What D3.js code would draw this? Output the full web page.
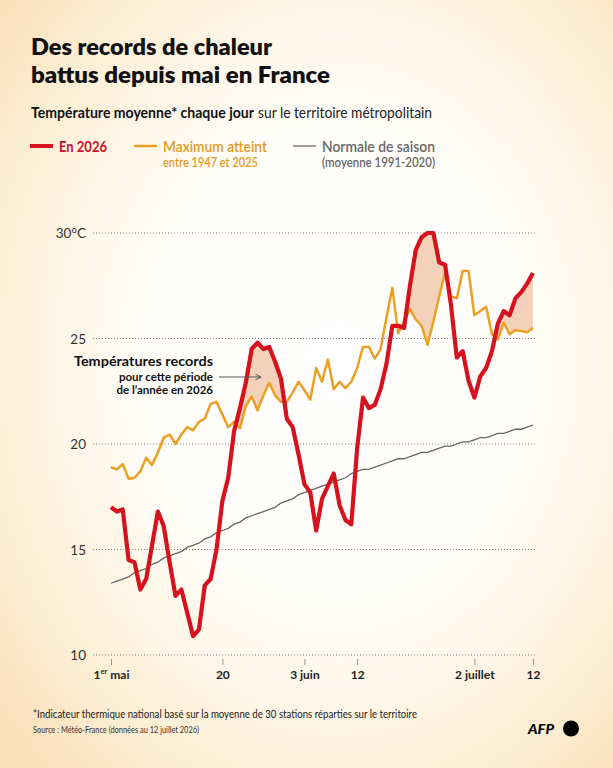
<!DOCTYPE html>
<html>
<head>
<meta charset="utf-8">
<script src="https://cdn.jsdelivr.net/npm/d3@7"></script>
<style>
  body { margin: 0; }
  svg { display: block; font-family: Lato, "Noto Sans", sans-serif; }
</style>
</head>
<body>
<svg width="613" height="768"></svg>
<script>
// daily values, 1 May -> 12 July 2026 (73 days)
var startDate = new Date(2026, 4, 1);

var en2026 = [17.0, 16.8, 16.9, 14.5, 14.4, 13.1, 13.6, 15.2, 16.8, 16.1,
    14.4, 12.8, 13.1, 12.0, 10.9, 11.2, 13.3, 13.6, 15.0, 17.3,
    18.4, 20.6, 21.7, 22.9, 24.5, 24.8, 24.5, 24.6, 23.9, 23.1,
    21.2, 20.8, 19.5, 18.1, 17.7, 15.9, 17.4, 18.0, 18.6, 17.1,
    16.4, 16.2, 19.8, 22.2, 21.7, 21.85, 22.6, 23.8, 25.6, 25.6,
    25.5, 27.5, 29.2, 29.8, 30.0, 30.0, 28.6, 28.5, 26.6, 24.1,
    24.4, 23.0, 22.2, 23.2, 23.6, 24.4, 25.7, 26.3, 26.1, 26.9,
    27.2, 27.6, 28.1];

var maxAtteint = [18.9, 18.8, 19.05, 18.35, 18.4, 18.7, 19.35, 19.0, 19.6, 20.3,
    20.45, 20.0, 20.45, 20.8, 20.65, 21.05, 21.2, 21.9, 22.0, 21.4,
    20.8, 21.05, 20.75, 21.8, 22.25, 21.6, 22.3, 22.9, 22.3, 22.0,
    22.0, 22.45, 22.95, 22.55, 22.1, 23.6, 22.95, 24.0, 22.6, 22.95,
    22.65, 22.95, 23.6, 24.6, 24.6, 24.05, 24.5, 26.0, 27.4, 25.25,
    25.8, 26.4, 25.9, 25.6, 24.7, 25.8, 27.0, 28.1, 27.0, 26.9,
    28.2, 28.2, 26.1, 26.3, 26.5, 25.2, 24.95, 25.75, 25.2, 25.4,
    25.35, 25.3, 25.5];

var normale = [13.4, 13.5, 13.6, 13.7, 13.9, 14.0, 14.1, 14.3, 14.4, 14.6,
    14.7, 14.8, 14.9, 15.1, 15.2, 15.3, 15.5, 15.6, 15.8, 15.9,
    16.0, 16.2, 16.3, 16.5, 16.6, 16.7, 16.8, 16.9, 17.0, 17.2,
    17.3, 17.4, 17.6, 17.7, 17.8, 17.9, 18.0, 18.1, 18.2, 18.3,
    18.4, 18.6, 18.7, 18.8, 18.8, 18.9, 19.0, 19.1, 19.2, 19.3,
    19.3, 19.4, 19.5, 19.6, 19.6, 19.7, 19.8, 19.9, 19.9, 20.0,
    20.1, 20.1, 20.2, 20.3, 20.3, 20.4, 20.5, 20.5, 20.6, 20.7,
    20.7, 20.8, 20.9];

var yTicks = [10, 15, 20, 25, 30];
var xTickDates = [new Date(2026, 4, 1), new Date(2026, 4, 20), new Date(2026, 5, 3),
    new Date(2026, 5, 12), new Date(2026, 6, 2), new Date(2026, 6, 12)];
var xTickLabels = ['1er mai', '20', '3 juin', '12', '2 juillet', '12'];

var data = en2026.map(function(d, i) {
    return {
        date: d3.timeDay.offset(startDate, i),
        t2026: d,
        max: maxAtteint[i],
        norm: normale[i]
    };
});

var svg = d3.select('svg');

// background
var defs = svg.append('defs');
var bg = defs.append('radialGradient')
    .attr('id', 'bg')
    .attr('cx', '0.55').attr('cy', '0.47').attr('r', '0.72');
bg.append('stop').attr('offset', '0').attr('stop-color', '#ffffff');
bg.append('stop').attr('offset', '0.45').attr('stop-color', '#fffdf8');
bg.append('stop').attr('offset', '0.78').attr('stop-color', '#fdefd6');
bg.append('stop').attr('offset', '1').attr('stop-color', '#fae0b8');
svg.append('rect').attr('width', 613).attr('height', 768).attr('fill', 'url(#bg)');

// titles
svg.append('text').attr('x', 31).attr('y', 55)
    .attr('font-size', 23).attr('font-weight', 800).attr('fill', '#111')
    .attr('textLength', 241).attr('lengthAdjust', 'spacingAndGlyphs')
    .text('Des records de chaleur');
svg.append('text').attr('x', 31).attr('y', 83)
    .attr('font-size', 23).attr('font-weight', 800).attr('fill', '#111')
    .attr('textLength', 299).attr('lengthAdjust', 'spacingAndGlyphs')
    .text('battus depuis mai en France');

svg.append('text').attr('x', 31).attr('y', 118)
    .attr('font-size', 15).attr('font-weight', 700).attr('fill', '#111')
    .attr('textLength', 223).attr('lengthAdjust', 'spacingAndGlyphs')
    .text('Température moyenne* chaque jour');
svg.append('text').attr('x', 258).attr('y', 118)
    .attr('font-size', 15).attr('fill', '#222')
    .attr('textLength', 174).attr('lengthAdjust', 'spacingAndGlyphs')
    .text('sur le territoire métropolitain');

// legend
var legend = [
    {x: 30, color: '#d5121e', width: 4, label: 'En 2026', len: 48, sub: null, subLen: 0, txt: '#c8102e', weight: 700},
    {x: 134, color: '#e9a024', width: 2.5, label: 'Maximum atteint', len: 104, sub: 'entre 1947 et 2025', subLen: 95, txt: '#e39a22', weight: 600},
    {x: 293, color: '#666', width: 1.3, label: 'Normale de saison', len: 113, sub: '(moyenne 1991-2020)', subLen: 113, txt: '#666', weight: 600}
];
var lg = svg.selectAll('.leg').data(legend).enter().append('g')
    .attr('class', 'leg')
    .attr('transform', function(d) { return 'translate(' + d.x + ',0)'; });
lg.append('line').attr('x1', 0).attr('x2', 23).attr('y1', 146).attr('y2', 146)
    .attr('stroke', function(d) { return d.color; })
    .attr('stroke-width', function(d) { return d.width; });
lg.append('text').attr('x', 29).attr('y', 152)
    .attr('font-size', 15).attr('font-weight', function(d) { return d.weight; })
    .attr('fill', function(d) { return d.txt; })
    .attr('textLength', function(d) { return d.len; })
    .attr('lengthAdjust', 'spacingAndGlyphs')
    .text(function(d) { return d.label; });
lg.filter(function(d) { return d.sub; }).append('text').attr('x', 29).attr('y', 167)
    .attr('font-size', 12.5).attr('font-weight', function(d) { return d.weight; })
    .attr('fill', function(d) { return d.txt; })
    .attr('textLength', function(d) { return d.subLen; })
    .attr('lengthAdjust', 'spacingAndGlyphs')
    .text(function(d) { return d.sub; });

// scales
var x = d3.scaleTime()
    .domain([startDate, new Date(2026, 6, 12)])
    .range([111, 533]);
var y = d3.scaleLinear().domain([10, 30]).range([655, 233]);

// grid + y labels
var grid = svg.append('g');
grid.selectAll('line').data(yTicks).enter().append('line')
    .attr('x1', 93).attr('x2', 536)
    .attr('y1', function(d) { return y(d); })
    .attr('y2', function(d) { return y(d); })
    .attr('stroke', '#8a8a8a').attr('stroke-width', 1)
    .attr('stroke-dasharray', '1,2');
grid.selectAll('text').data(yTicks).enter().append('text')
    .attr('x', 86).attr('y', function(d) { return y(d) + 5; })
    .attr('text-anchor', 'end').attr('font-size', 13.5).attr('fill', '#333')
    .text(function(d) { return d == 30 ? '30°C' : d; });

// x axis
var xAxis = svg.append('g').attr('transform', 'translate(0,659)')
    .call(d3.axisBottom(x).tickValues(xTickDates).tickSize(6).tickFormat(function(d, i) { return xTickLabels[i]; }));
xAxis.select('.domain').remove();
xAxis.selectAll('.tick line').attr('stroke', '#999');
xAxis.selectAll('.tick text')
    .attr('font-family', 'Lato, sans-serif')
    .attr('font-size', 12).attr('font-weight', 700).attr('fill', '#222')
    .attr('dy', '0.95em');
xAxis.selectAll('.tick text').filter(function(d, i) { return i == 0; })
    .text(null)
    .call(function(t) {
        t.append('tspan').text('1');
        t.append('tspan').text('er').attr('font-size', 7.5).attr('dy', -5);
        t.append('tspan').text(' mai').attr('dy', 5);
    });

// record area: below red line and above orange line
defs.append('clipPath').attr('id', 'aboveMax')
    .append('path')
    .attr('d', d3.area()
        .x(function(d) { return x(d.date); })
        .y0(function(d) { return y(d.max); })
        .y1(200)(data));

svg.append('path')
    .attr('clip-path', 'url(#aboveMax)')
    .attr('fill', '#f3cdb1')
    .attr('opacity', 0.9)
    .attr('d', d3.area()
        .x(function(d) { return x(d.date); })
        .y0(y(10))
        .y1(function(d) { return y(d.t2026); })(data));

var lineOf = function(key) {
    return d3.line()
        .x(function(d) { return x(d.date); })
        .y(function(d) { return y(d[key]); });
};

svg.append('path').attr('d', lineOf('norm')(data))
    .attr('fill', 'none').attr('stroke', '#666').attr('stroke-width', 1.3);
svg.append('path').attr('d', lineOf('max')(data))
    .attr('fill', 'none').attr('stroke', '#e9a024').attr('stroke-width', 2.5)
    .attr('stroke-linejoin', 'round');
svg.append('path').attr('d', lineOf('t2026')(data))
    .attr('fill', 'none').attr('stroke', '#d5121e').attr('stroke-width', 4.2)
    .attr('stroke-linejoin', 'round');

// annotation
var ann = svg.append('g').attr('fill', '#111').attr('text-anchor', 'end');
ann.append('text').attr('x', 213).attr('y', 366)
    .attr('font-size', 14).attr('font-weight', 700)
    .attr('textLength', 139).attr('lengthAdjust', 'spacingAndGlyphs')
    .text('Températures records');
ann.append('text').attr('x', 213).attr('y', 380.5)
    .attr('font-size', 11.5).attr('font-weight', 700)
    .text('pour cette période');
ann.append('text').attr('x', 213).attr('y', 394)
    .attr('font-size', 11.5).attr('font-weight', 700)
    .text('de l\u2019année en 2026');
defs.append('marker').attr('id', 'arr')
    .attr('viewBox', '0 0 10 10').attr('refX', 9).attr('refY', 5)
    .attr('markerWidth', 7).attr('markerHeight', 7).attr('orient', 'auto')
    .append('path').attr('d', 'M1,1 L9,5 L1,9').attr('fill', 'none')
    .attr('stroke', '#555').attr('stroke-width', 1.4);
svg.append('line').attr('x1', 219).attr('x2', 261).attr('y1', 377).attr('y2', 377)
    .attr('stroke', '#555').attr('stroke-width', 1)
    .attr('marker-end', 'url(#arr)');

// footer
svg.append('text').attr('x', 33).attr('y', 718)
    .attr('font-size', 12).attr('fill', '#222')
    .attr('textLength', 384).attr('lengthAdjust', 'spacingAndGlyphs')
    .text('*Indicateur thermique national basé sur la moyenne de 30 stations réparties sur le territoire');
svg.append('text').attr('x', 33).attr('y', 733)
    .attr('font-size', 9.5).attr('fill', '#333')
    .attr('textLength', 166).attr('lengthAdjust', 'spacingAndGlyphs')
    .text('Source : Météo-France (données au 12 juillet 2026)');

svg.append('text').attr('x', 528).attr('y', 734)
    .attr('font-size', 14).attr('font-weight', 900).attr('font-style', 'italic')
    .attr('fill', '#000')
    .attr('textLength', 26).attr('lengthAdjust', 'spacingAndGlyphs')
    .text('AFP');
svg.append('circle').attr('cx', 571).attr('cy', 728.5).attr('r', 8).attr('fill', '#000');
</script>
</body>
</html>
